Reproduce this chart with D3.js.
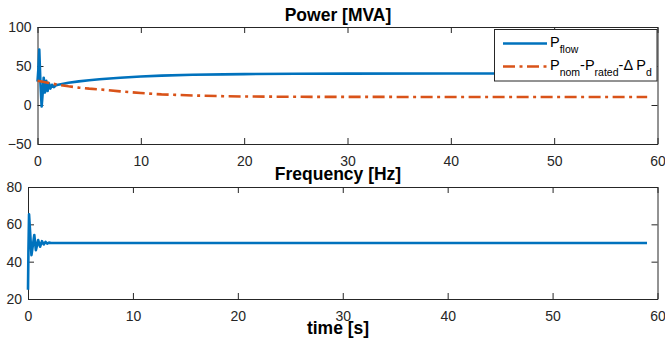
<!DOCTYPE html>
<html>
<head>
<meta charset="utf-8">
<script src="https://cdn.jsdelivr.net/npm/d3@7"></script>
<style>
  html, body { margin: 0; padding: 0; background: #fff; }
  svg { display: block; font-family: "Liberation Sans", Arial, sans-serif; }
</style>
</head>
<body>
<div id="chart"></div>
<script>
// time axis ticks shared by both panels
const timeTicks = [0, 10, 20, 30, 40, 50, 60];
const powerTicks = [-50, 0, 50, 100];
const freqTicks = [20, 40, 60, 80];

// P_flow
const tFlow = [0, 0.08, 0.17, 0.28, 0.4, 0.5, 0.6, 0.72, 0.85, 0.98, 1.1, 1.25, 1.4, 1.6, 1.8, 2, 2.5, 3, 4, 5, 6, 7, 8, 10, 12, 15, 18, 20, 25, 30, 40, 50, 59];
const pFlow = [30, 45, 71, 30, -2, 15, 35, 16, 31, 18, 28, 21, 26, 23, 25.5, 26, 27.3, 28.5, 30.3, 31.7, 33, 34, 35, 36.6, 37.7, 38.7, 39.3, 39.6, 40, 40.2, 40.3, 40.3, 40.3];

// P_nom - P_rated - dP_d
const tRef = [0, 1, 2, 3, 4, 5, 6, 8, 10, 12, 15, 18, 20, 25, 30, 40, 50, 59];
const pRef = [31, 28.5, 26, 24, 22.3, 21, 20, 17.5, 15.3, 13.6, 12.2, 11.3, 10.9, 10.5, 10.4, 10.3, 10.3, 10.3];

// frequency
const tFreq = [0, 0.04, 0.1, 0.2, 0.33, 0.47, 0.6, 0.75, 0.87, 0.97, 1.07, 1.15, 1.33, 1.5, 1.67, 1.83, 2.0, 2.2, 3, 10, 20, 30, 40, 50, 59];
const freq = [25, 45, 65.4, 56, 43.5, 49, 54.3, 46.2, 49, 51.6, 49.5, 48, 51, 49.2, 50.6, 49.7, 50.2, 50, 50, 50, 50, 50, 50, 50, 50];

const blue = "#0072BD";
const orange = "#D95319";
const axisColor = "#262626";

const width = 665, height = 341;
const svg = d3.select("#chart").append("svg")
  .attr("width", width)
  .attr("height", height);

function drawPanel(box, yDomain, yTicks) {
  const x = d3.scaleLinear().domain([0, 60]).range([box.left, box.right]);
  const y = d3.scaleLinear().domain(yDomain).range([box.bottom, box.top]);
  const g = svg.append("g");

  const styleAxis = sel => {
    sel.select(".domain").attr("stroke", axisColor).attr("stroke-width", 1);
    sel.selectAll(".tick line").attr("stroke", axisColor);
    sel.selectAll(".tick text").attr("fill", axisColor).attr("font-size", 14);
  };

  g.append("g").attr("transform", `translate(0,${box.bottom})`)
    .call(d3.axisBottom(x).tickValues(timeTicks).tickSizeInner(-6).tickSizeOuter(0).tickPadding(12))
    .call(styleAxis);
  g.append("g").attr("transform", `translate(0,${box.top})`)
    .call(d3.axisTop(x).tickValues(timeTicks).tickSizeInner(-6).tickSizeOuter(0).tickFormat(""))
    .call(styleAxis);
  g.append("g").attr("transform", `translate(${box.left},0)`)
    .call(d3.axisLeft(y).tickValues(yTicks).tickSizeInner(-6).tickSizeOuter(0).tickPadding(6))
    .call(styleAxis);
  g.append("g").attr("transform", `translate(${box.right},0)`)
    .call(d3.axisRight(y).tickValues(yTicks).tickSizeInner(-6).tickSizeOuter(0).tickFormat(""))
    .call(styleAxis);

  return { x, y, g };
}

function drawLine(p, ts, vs, color, dash) {
  const line = d3.line().x((d, i) => p.x(ts[i])).y(d => p.y(d));
  p.g.append("path")
    .datum(vs)
    .attr("d", line)
    .attr("fill", "none")
    .attr("stroke", color)
    .attr("stroke-width", 2.6)
    .attr("stroke-linejoin", "round")
    .attr("stroke-dasharray", dash || null);
}

// top panel: power
const powerPanel = drawPanel({ left: 37.5, right: 657.5, top: 27, bottom: 144 }, [-50, 100], powerTicks);
drawLine(powerPanel, tFlow, pFlow, blue);
drawLine(powerPanel, tRef, pRef, orange, "12,4.5,3,4.5");

// bottom panel: frequency
const freqPanel = drawPanel({ left: 28, right: 657.5, top: 187, bottom: 299 }, [20, 80], freqTicks);
drawLine(freqPanel, tFreq, freq, blue);

// titles
const titles = [
  { text: "Power [MVA]", y: 21 },
  { text: "Frequency [Hz]", y: 180 },
  { text: "time [s]", y: 334 }
];
svg.selectAll("text.title").data(titles).enter().append("text")
  .attr("class", "title")
  .attr("x", 338)
  .attr("y", d => d.y)
  .attr("text-anchor", "middle")
  .attr("font-size", 17.5)
  .attr("font-weight", "bold")
  .attr("fill", "#000")
  .text(d => d.text);

// legend
const lg = svg.append("g");
lg.append("rect")
  .attr("x", 494.5).attr("y", 29.5)
  .attr("width", 162.5).attr("height", 51.5)
  .attr("fill", "#fff")
  .attr("stroke", axisColor)
  .attr("stroke-width", 1);

const legendRows = [
  { y: 43.5, color: blue, dash: null, parts: [["P", 0], ["flow", 1]] },
  { y: 66.5, color: orange, dash: "12,4.5,3,4.5",
    parts: [["P", 0], ["nom", 1], ["-P", 0], ["rated", 1], ["-\u0394 P", 0], ["d", 1]] }
];
legendRows.forEach(r => {
  lg.append("line")
    .attr("x1", 503).attr("x2", 547)
    .attr("y1", r.y).attr("y2", r.y)
    .attr("stroke", r.color)
    .attr("stroke-width", 2.6)
    .attr("stroke-dasharray", r.dash);
  const t = lg.append("text")
    .attr("x", 550)
    .attr("y", r.y + 3.5)
    .attr("font-size", 14)
    .attr("fill", "#000");
  let prev = 0;
  r.parts.forEach(([s, sub]) => {
    t.append("tspan")
      .attr("dy", sub === prev ? 0 : (sub ? 6 : -6))
      .attr("font-size", sub ? 10.5 : 14.5)
      .text(s);
    prev = sub;
  });
});
</script>
</body>
</html>
